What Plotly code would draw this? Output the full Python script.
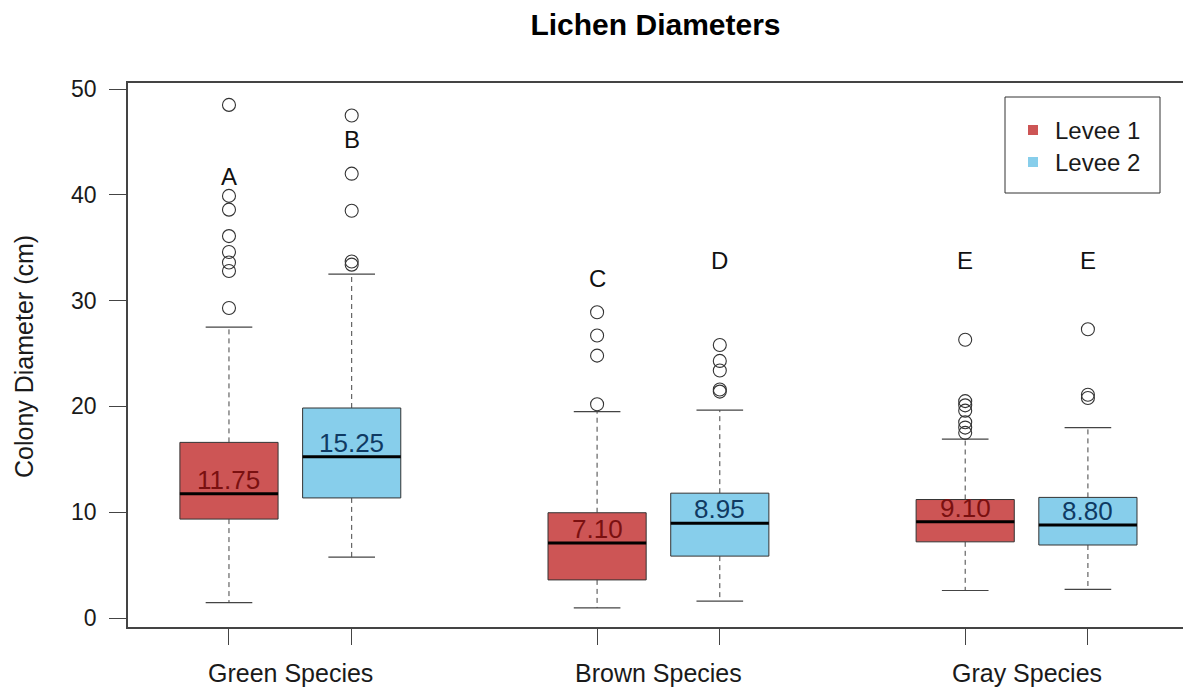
import plotly.graph_objects as go

# ---------------- data ----------------
groups = ["Green Species", "Brown Species", "Gray Species"]
levees = ["Levee 1", "Levee 2"]
positions = [1, 2, 4, 5, 7, 8]
box_levee = [0, 1, 0, 1, 0, 1]
group_centers = [1.5, 4.5, 7.5]

lower_whisker = [1.45, 5.75, 0.95, 1.6, 2.6, 2.7]
q1 = [9.35, 11.35, 3.6, 5.85, 7.2, 6.9]
median = [11.75, 15.25, 7.10, 8.95, 9.10, 8.80]
q3 = [16.6, 19.85, 9.95, 11.8, 11.2, 11.4]
upper_whisker = [27.5, 32.5, 19.5, 19.65, 16.9, 18.0]
outliers = [
    [48.5, 39.9, 38.6, 36.1, 34.6, 33.6, 32.8, 29.3],
    [47.5, 42.0, 38.5, 33.7, 33.4],
    [28.9, 26.7, 24.8, 20.2],
    [25.8, 24.3, 23.4, 21.6, 21.4],
    [26.3, 20.5, 20.1, 19.6, 18.5, 18.0, 17.5],
    [27.3, 21.1, 20.8],
]
letters = ["A", "B", "C", "D", "E", "E"]
letter_y = [41.7, 45.2, 32.1, 33.8, 33.8, 33.8]
y_ticks = [0, 10, 20, 30, 40, 50]

# ---------------- styles ----------------
FONT = "Liberation Sans, Arial, sans-serif"
fill_colors = ["#CD5555", "#87CEEB"]
text_colors = ["#7a1010", "#0f3a63"]
edge = "#333333"
axis_col = "#444444"
half_box = 0.4
half_staple = 0.19

fig = go.Figure()

# boxes
for lv in range(2):
    xs, ys = [], []
    for i, p in enumerate(positions):
        if box_levee[i] != lv:
            continue
        xs += [p - half_box, p + half_box, p + half_box, p - half_box, p - half_box, None]
        ys += [q1[i], q1[i], q3[i], q3[i], q1[i], None]
    fig.add_trace(go.Scatter(x=xs, y=ys, mode="lines", fill="toself",
                             fillcolor=fill_colors[lv],
                             line=dict(color=edge, width=1),
                             showlegend=False, hoverinfo="skip"))

# whiskers (dashed)
wx, wy = [], []
for i, p in enumerate(positions):
    wx += [p, p, None, p, p, None]
    wy += [q3[i], upper_whisker[i], None, q1[i], lower_whisker[i], None]
fig.add_trace(go.Scatter(x=wx, y=wy, mode="lines",
                         line=dict(color=axis_col, width=1, dash="5px,4px"),
                         showlegend=False, hoverinfo="skip"))

# staples
sx, sy = [], []
for i, p in enumerate(positions):
    sx += [p - half_staple, p + half_staple, None, p - half_staple, p + half_staple, None]
    sy += [upper_whisker[i], upper_whisker[i], None, lower_whisker[i], lower_whisker[i], None]
fig.add_trace(go.Scatter(x=sx, y=sy, mode="lines",
                         line=dict(color=axis_col, width=1.2),
                         showlegend=False, hoverinfo="skip"))

# medians
mx, my = [], []
for i, p in enumerate(positions):
    mx += [p - half_box, p + half_box, None]
    my += [median[i], median[i], None]
fig.add_trace(go.Scatter(x=mx, y=my, mode="lines",
                         line=dict(color="black", width=3),
                         showlegend=False, hoverinfo="skip"))

# outliers
ox, oy = [], []
for i, p in enumerate(positions):
    ox += [p] * len(outliers[i])
    oy += outliers[i]
fig.add_trace(go.Scatter(x=ox, y=oy, mode="markers",
                         marker=dict(symbol="circle-open", size=13,
                                     color=edge, line=dict(width=1.1)),
                         showlegend=False, hoverinfo="skip"))

annotations = []
# median labels
for i, p in enumerate(positions):
    annotations.append(dict(x=p, y=median[i], xref="x", yref="y",
                            text=f"{median[i]:.2f}", showarrow=False,
                            yanchor="bottom", yshift=-3,
                            font=dict(family=FONT, size=26,
                                      color=text_colors[box_levee[i]])))
# letters
for i, p in enumerate(positions):
    annotations.append(dict(x=p, y=letter_y[i], xref="x", yref="y",
                            text=letters[i], showarrow=False,
                            font=dict(family=FONT, size=24, color="#111111")))
# group labels
for g, c in zip(groups, group_centers):
    annotations.append(dict(x=c, y=-0.0846, xref="x", yref="paper",
                            text=g, showarrow=False, yanchor="middle",
                            font=dict(family=FONT, size=25, color="#1a1a1a")))

# legend + y title (drawn manually, paper coordinates)
W, H, L, T = 1055.0, 544.0, 128.0, 83.0
def px(xp):
    return (xp - L) / W
def py(yp):
    return (T + H - yp) / H

annotations.append(dict(x=px(24), y=py(357), xref="paper", yref="paper",
                        text="Colony Diameter (cm)", textangle=-90, showarrow=False,
                        xanchor="center", yanchor="middle",
                        font=dict(family=FONT, size=25, color="#1a1a1a")))

shapes = [dict(type="rect", xref="paper", yref="paper",
               x0=px(1005), x1=px(1160), y0=py(193), y1=py(97),
               line=dict(color=edge, width=1), fillcolor="white", layer="above")]
leg_y = [130, 162]
for lv in range(2):
    shapes.append(dict(type="rect", xref="paper", yref="paper",
                       x0=px(1028), x1=px(1038), y0=py(leg_y[lv] + 5), y1=py(leg_y[lv] - 5),
                       line=dict(width=0), fillcolor=fill_colors[lv], layer="above"))
    annotations.append(dict(x=px(1053), y=py(leg_y[lv]), xref="paper", yref="paper",
                            text=levees[lv], showarrow=False, xanchor="left",
                            yanchor="middle",
                            font=dict(family=FONT, size=24, color="#1a1a1a")))

fig.update_layout(
    width=1183, height=689,
    margin=dict(l=128, r=0, t=83, b=62),
    paper_bgcolor="white", plot_bgcolor="white",
    showlegend=False,
    title=dict(text="<b>Lichen Diameters</b>", x=0.5, xref="paper",
               y=1 - 24 / 689, yref="container", yanchor="middle",
               font=dict(family=FONT, size=30, color="black")),
    annotations=annotations,
    shapes=shapes,
    font=dict(family=FONT),
)
fig.update_xaxes(range=[0.177, 8.775], tickvals=positions, ticktext=[""] * len(positions),
                 showticklabels=False, ticks="outside", ticklen=16, tickcolor=axis_col,
                 showgrid=False, zeroline=False, showline=True, linecolor=axis_col,
                 linewidth=1.5, mirror=True)
fig.update_yaxes(range=[-0.85, 50.57], tickvals=y_ticks, ticks="outside", ticklen=17,
                 tickcolor=axis_col, ticklabelstandoff=8,
                 tickfont=dict(family=FONT, size=23, color="#1a1a1a"),
                 showgrid=False, zeroline=False, showline=True, linecolor=axis_col,
                 linewidth=1.5)

fig.write_html("out.html")
